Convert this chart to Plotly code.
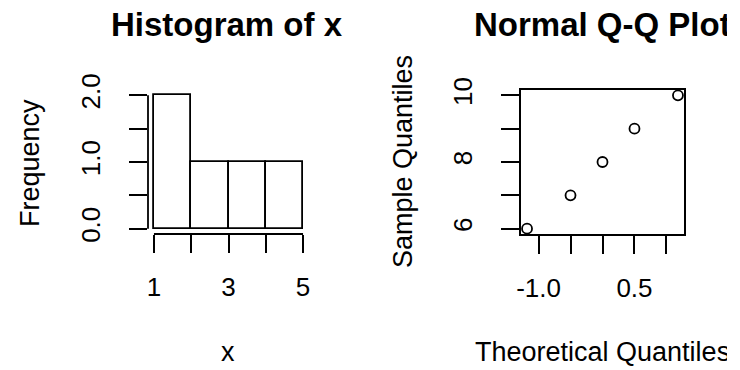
import plotly.graph_objects as go

# ---- data ----
breaks = [1, 2, 3, 4, 5]
counts = [2, 1, 1, 1]
hist_xticks = [1, 2, 3, 4, 5]
hist_xticklabels = ["1", "", "3", "", "5"]
hist_yticks = [0, 0.5, 1.0, 1.5, 2.0]
hist_yticklabels = ["0.0", "", "1.0", "", "2.0"]

qq_theoretical = [-1.18, -0.50, 0.0, 0.50, 1.18]
qq_sample = [6, 7, 8, 9, 10]
qq_xticks = [-1.0, -0.5, 0.0, 0.5, 1.0]
qq_xticklabels = ["-1.0", "", "", "0.5", ""]
qq_yticks = [6, 7, 8, 9, 10]
qq_yticklabels = ["6", "", "8", "", "10"]

W, H = 727, 370
FONT = "Liberation Sans, Arial, sans-serif"
TICKFONT = 26
LABFONT = 27
TITLEFONT = 33
LW = 1.8


def px(x):
    return x / W


def py(y):
    return 1 - y / H


mids = [(breaks[i] + breaks[i + 1]) / 2 for i in range(len(counts))]
widths = [breaks[i + 1] - breaks[i] for i in range(len(counts))]

fig = go.Figure()
fig.add_trace(go.Bar(x=mids, y=counts, width=widths,
                     marker=dict(color="white", line=dict(color="black", width=LW)),
                     xaxis="x", yaxis="y", showlegend=False, hoverinfo="skip"))
fig.add_trace(go.Scatter(x=qq_theoretical, y=qq_sample, mode="markers",
                         marker=dict(symbol="circle-open", size=10, color="black",
                                     line=dict(width=1.8)),
                         xaxis="x2", yaxis="y2", showlegend=False, hoverinfo="skip",
                         cliponaxis=False))


def ext(lo, hi):
    d = (hi - lo) * 0.04
    return [lo - d, hi + d]


ydom = [py(234), py(90)]
common_ticks = dict(ticks="outside", ticklen=18, tickwidth=LW, tickcolor="black",
                    showgrid=False, zeroline=False, showline=False, automargin=False,
                    tickfont=dict(family=FONT, size=TICKFONT, color="black"))

fig.update_layout(
    template="none",
    width=W, height=H,
    margin=dict(l=0, r=0, t=0, b=0, pad=0),
    paper_bgcolor="white", plot_bgcolor="white",
    bargap=0,
    xaxis=dict(domain=[px(148), px(309)], range=ext(breaks[0], breaks[-1]),
               tickmode="array", tickvals=hist_xticks, ticktext=hist_xticklabels,
               anchor="y", ticklabelstandoff=12, **common_ticks),
    yaxis=dict(domain=ydom, range=ext(0, max(counts)),
               tickmode="array", tickvals=hist_yticks, ticktext=hist_yticklabels,
               anchor="x", tickangle=-90, ticklabelstandoff=19, **common_ticks),
    xaxis2=dict(domain=[px(521), px(684)], range=ext(min(qq_theoretical), max(qq_theoretical)),
                tickmode="array", tickvals=qq_xticks, ticktext=qq_xticklabels,
                anchor="y2", ticklabelstandoff=12,
                **{**common_ticks, "showline": True, "mirror": True,
                   "linecolor": "black", "linewidth": LW}),
    yaxis2=dict(domain=ydom, range=ext(min(qq_sample), max(qq_sample)),
                tickmode="array", tickvals=qq_yticks, ticktext=qq_yticklabels,
                anchor="x2", tickangle=-90, ticklabelstandoff=19,
                **{**common_ticks, "showline": True, "mirror": True,
                   "linecolor": "black", "linewidth": LW}),
)

# R-style axis lines for histogram (only spanning tick range)
fig.add_shape(type="line", xref="x", yref="y domain", x0=hist_xticks[0], x1=hist_xticks[-1],
              y0=0, y1=0, line=dict(color="black", width=LW))
fig.add_shape(type="line", xref="x domain", yref="y", x0=0, x1=0,
              y0=hist_yticks[0], y1=hist_yticks[-1], line=dict(color="black", width=LW))

ann = []
ann.append(dict(text="<b>Histogram of x</b>", x=px(227), y=py(24), font=dict(size=TITLEFONT)))
ann.append(dict(text="<b>Normal Q-Q Plot</b>", x=px(602), y=py(24), font=dict(size=TITLEFONT)))
ann.append(dict(text="x", x=px(228), y=py(352), font=dict(size=LABFONT)))
ann.append(dict(text="Theoretical Quantiles", x=px(602), y=py(352), font=dict(size=LABFONT)))
ann.append(dict(text="Frequency", x=px(30), y=py(163), textangle=-90, font=dict(size=LABFONT)))
ann.append(dict(text="Sample Quantiles", x=px(403), y=py(162), textangle=-90, font=dict(size=LABFONT)))
for a in ann:
    a.update(xref="paper", yref="paper", showarrow=False, xanchor="center", yanchor="middle")
    a["font"].update(family=FONT, color="black")
    fig.add_annotation(**a)

fig.write_html("out.html", config={"displayModeBar": False},
               post_script="document.body.style.margin='0';document.body.style.overflow='hidden';")
